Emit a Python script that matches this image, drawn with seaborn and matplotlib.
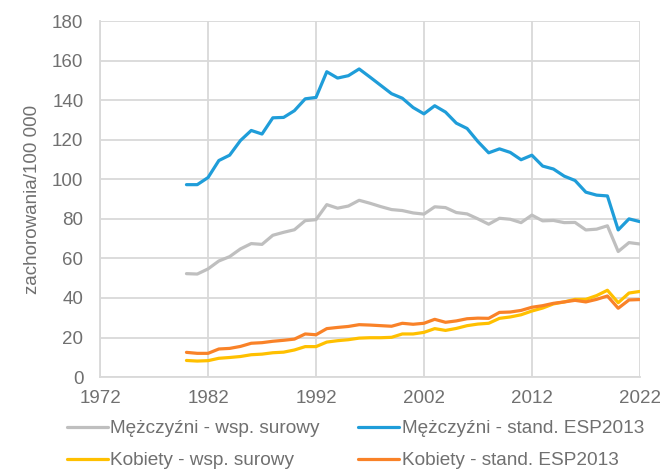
import numpy as np
import pandas as pd
import seaborn as sns
import matplotlib.pyplot as plt

years = list(range(1980, 2023))

men_crude = [52.3, 52.1, 54.7, 58.7, 60.9, 64.8, 67.5, 67.1, 71.7, 73.2,
             74.5, 79.1, 79.6, 87.2, 85.4, 86.5, 89.4, 87.9, 86.2, 84.7,
             84.2, 83.0, 82.4, 86.1, 85.7, 83.2, 82.5, 80.0, 77.3, 80.3,
             79.8, 78.1, 81.9, 79.0, 79.2, 78.1, 78.2, 74.4, 74.8, 76.5,
             63.5, 68.0, 67.3]
men_std = [97.3, 97.3, 100.9, 109.5, 112.2, 119.6, 124.7, 122.9, 131.1, 131.3,
           134.7, 140.7, 141.4, 154.4, 151.2, 152.4, 155.8, 151.7, 147.5, 143.3,
           141.0, 136.3, 133.1, 137.2, 134.0, 128.4, 125.7, 119.1, 113.4, 115.4,
           113.6, 109.9, 112.2, 106.7, 105.2, 101.6, 99.4, 93.5, 92.0, 91.6,
           74.4, 80.0, 78.6]
women_crude = [8.4, 8.1, 8.3, 9.5, 9.9, 10.4, 11.3, 11.6, 12.3, 12.6,
               13.7, 15.4, 15.4, 17.7, 18.4, 18.9, 19.7, 19.9, 19.9, 20.1,
               21.8, 21.8, 22.6, 24.5, 23.6, 24.6, 26.0, 26.8, 27.2, 29.7,
               30.4, 31.5, 33.4, 34.9, 37.0, 38.0, 39.3, 39.3, 41.2, 43.9,
               37.6, 42.5, 43.3]
women_std = [12.5, 12.0, 12.0, 14.2, 14.5, 15.5, 17.1, 17.4, 18.1, 18.6,
             19.2, 21.8, 21.4, 24.5, 25.1, 25.6, 26.5, 26.3, 26.0, 25.7,
             27.2, 26.7, 27.2, 29.2, 27.7, 28.4, 29.5, 29.8, 29.7, 32.7,
             32.9, 33.7, 35.3, 36.1, 37.3, 38.0, 38.8, 38.0, 39.3, 41.0,
             34.8, 39.0, 39.2]

labels = ["Mężczyźni - wsp. surowy", "Mężczyźni - stand. ESP2013",
          "Kobiety - wsp. surowy", "Kobiety - stand. ESP2013"]
colors = ["#BFBFBF", "#1F9DD9", "#FFC000", "#F98228"]
series = [men_crude, men_std, women_crude, women_std]

sns.set_theme(style="whitegrid")
plt.rcParams['font.family'] = ['Liberation Sans', 'DejaVu Sans']
txt = "#707070"

fig = plt.figure(figsize=(6.63, 4.69), dpi=100)
ax = fig.add_axes([0.151, 0.196, 0.814, 0.759])

for lab, col, vals in zip(labels, colors, series):
    df = pd.DataFrame({"rok": years, "val": vals})
    sns.lineplot(data=df, x="rok", y="val", ax=ax, color=col, linewidth=2.3, label=lab)

ax.set_xlim(1972, 2022)
ax.set_ylim(0, 180)
ax.set_xticks(range(1972, 2023, 10))
ax.set_yticks(range(0, 181, 20))
ax.grid(True, color="#D9D9D9", linewidth=1.3)
for s in ["top", "right"]:
    ax.spines[s].set_visible(False)
for s in ["left", "bottom"]:
    ax.spines[s].set_color("#D9D9D9")
    ax.spines[s].set_linewidth(1.3)
ax.tick_params(axis="both", colors=txt, labelsize=13.5, length=0)
ax.tick_params(axis="y", pad=12)
ax.tick_params(axis="x", pad=9)
ax.set_xlabel("")
ax.set_ylabel("zachorowania/100 000", color=txt, fontsize=13.5, labelpad=8)

# legend below the axes, 2 columns (gray/yellow left, blue/orange right)
h, l = ax.get_legend_handles_labels()
ax.get_legend().remove()
order = [0, 2, 1, 3]
leg = fig.legend([h[i] for i in order], [l[i] for i in order], ncol=2,
                 loc="center", bbox_to_anchor=(0.536, 0.052), frameon=False,
                 fontsize=13.7, handlelength=2.15, handletextpad=0.15,
                 columnspacing=2.0, labelspacing=0.78, borderpad=0)
for t in leg.get_texts():
    t.set_color(txt)

fig.savefig("out.png", dpi=100)
